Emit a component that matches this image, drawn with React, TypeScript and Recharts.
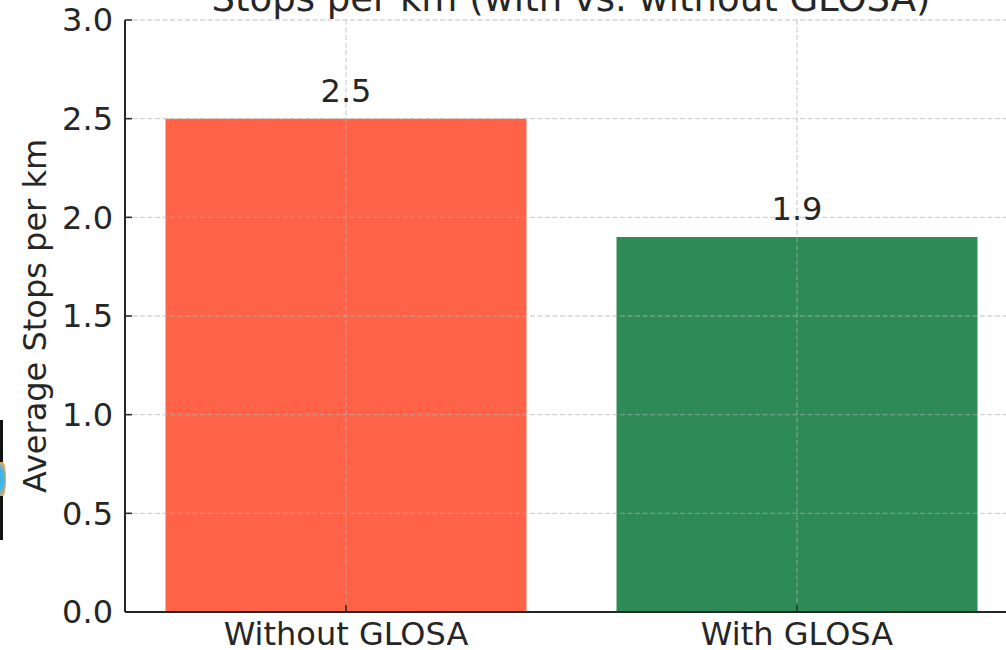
import React from "react";
import { BarChart, Bar, XAxis, YAxis, CartesianGrid, LabelList, Cell } from "recharts";

const categories = ["Without GLOSA", "With GLOSA"];
const values = [2.5, 1.9];
const colors = ["#FF6347", "#2E8B57"];
const yTicks = [0, 0.5, 1.0, 1.5, 2.0, 2.5, 3.0];
const gridValues = [0.5, 1.0, 1.5, 2.0, 2.5, 3.0];
const title = "Stops per km (with vs. without GLOSA)";
const yLabel = "Average Stops per km";

const data = categories.map((c, i) => ({ x: i, name: c, value: values[i] }));

const FONT = "DejaVu Sans, sans-serif";
const TXT = "#262626";

const ValueLabel = (props: any) => {
  const { x, y, width, value } = props;
  return (
    <text x={x + width / 2} y={y - 17} textAnchor="middle" fontSize={32} fontFamily={FONT} fill={TXT}>
      {Number(value).toFixed(1)}
    </text>
  );
};

export default function App() {
  return (
    <div style={{ position: "absolute", left: 0, top: 0, width: 1006, height: 650, overflow: "hidden", background: "#fff" }}>
      <BarChart
        width={1018}
        height={650}
        data={data}
        margin={{ top: 20, right: 0, bottom: 0, left: 0 }}
        style={{ fontFamily: FONT }}
      >
        <Bar dataKey="value" barSize={361} isAnimationActive={false}>
          {data.map((d, i) => (
            <Cell key={d.name} fill={colors[i]} />
          ))}
          <LabelList dataKey="value" content={ValueLabel} />
        </Bar>
        <CartesianGrid
          zIndex={500}
          stroke="#b0b0b0"
          strokeOpacity={0.55}
          strokeDasharray="5 2.5"
          strokeWidth={1.3}
          horizontalValues={gridValues}
        />
        <XAxis
          dataKey="x"
          type="number"
          domain={[-0.49, 1.49]}
          ticks={[0, 1]}
          allowDataOverflow
          tickFormatter={(v: number) => categories[v] ?? ""}
          height={38}
          tickSize={-7}
          tickMargin={17}
          axisLine={{ stroke: TXT, strokeWidth: 2 }}
          tickLine={{ stroke: TXT, strokeWidth: 1.5 }}
          tick={{ fill: TXT, fontSize: 32, fontFamily: FONT }}
          interval={0}
          zIndex={600}
        />
        <YAxis
          type="number"
          domain={[0, 3]}
          ticks={yTicks}
          width={125}
          tickFormatter={(v: number) => v.toFixed(1)}
          tickSize={-7}
          tickMargin={19}
          axisLine={{ stroke: TXT, strokeWidth: 2 }}
          tickLine={{ stroke: TXT, strokeWidth: 1.5 }}
          tick={{ fill: TXT, fontSize: 32, fontFamily: FONT }}
          interval={0}
          zIndex={600}
        />
        <text x={571} y={11} textAnchor="middle" fontSize={37} fontFamily={FONT} fill={TXT}>
          {title}
        </text>
        <text
          x={46}
          y={316}
          transform="rotate(-90, 46, 316)"
          textAnchor="middle"
          fontSize={32}
          fontFamily={FONT}
          fill={TXT}
        >
          {yLabel}
        </text>
      </BarChart>
      <div style={{ position: "absolute", left: 0, top: 420, width: 3, height: 120, background: "#111" }} />
      <div
        style={{
          position: "absolute",
          left: 0,
          top: 462,
          width: 6,
          height: 34,
          borderRadius: "0 50% 50% 0",
          background: "radial-gradient(ellipse at left, #3fb6e8 0%, #3fb6e8 40%, #e9a45a 75%, rgba(255,255,255,0) 100%)",
        }}
      />
    </div>
  );
}
